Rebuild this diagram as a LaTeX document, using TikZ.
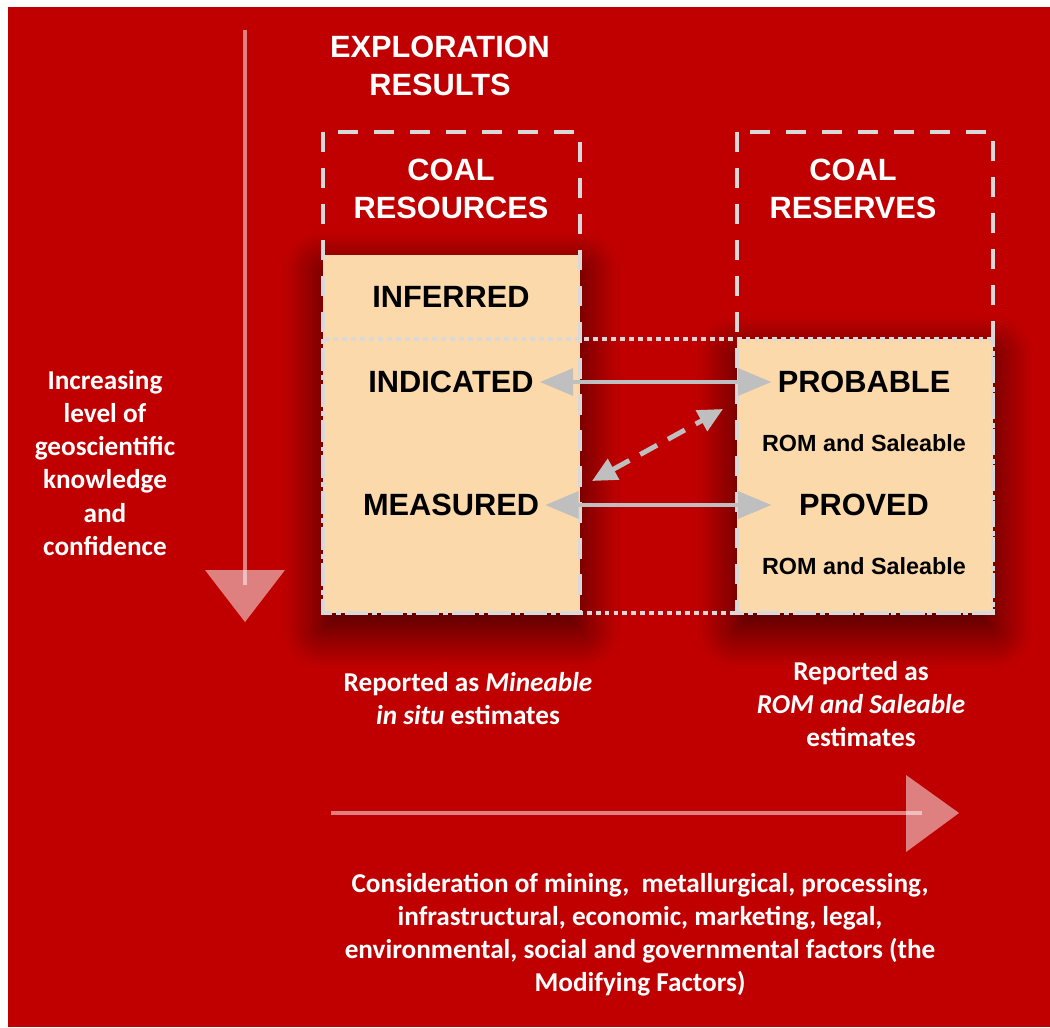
\documentclass[tikz,border=0pt]{standalone}
\usepackage{fontspec}
\setmainfont{Liberation Sans}
\newfontfamily\notefont{Carlito}
\usepackage{xcolor}
\usepackage{tikz}
\usetikzlibrary{positioning}
\usetikzlibrary{arrows.meta}
\usetikzlibrary{shadows.blur}
\definecolor{slide}{RGB}{192,0,0}
\definecolor{peach}{RGB}{252,217,170}
\definecolor{framegray}{RGB}{217,217,217}
\definecolor{linkgray}{RGB}{191,191,191}
\tikzset{	node distance=1.23cm,
	heading/.style={
		text=white,
		align=center,
		font=\bfseries\fontsize{17.5}{21.3}\selectfont},
	class/.style={
		text=black,
		font=\bfseries\fontsize{17.5}{21}\selectfont},
	sub/.style={
		text=black,
		font=\bfseries\fontsize{13.3}{16}\selectfont},
	note/.style={
		text=white,
		align=center,
		font=\notefont\bfseries\fontsize{15.5}{18.8}\selectfont},
	category/.style={
		fill=peach,
		blur shadow={shadow xshift=0pt, shadow yshift=-9pt,
			shadow blur radius=22pt, shadow blur steps=24, shadow opacity=70}},
	framebox/.style={
		draw=framegray,
		line width=2.3pt,
		dash pattern=on 11.5pt off 9pt},
	dotbox/.style={
		draw=framegray,
		line width=2.3pt,
		dash pattern=on 2.8pt off 2.3pt},
	relation/.style={
		draw=linkgray,
		line width=2.8pt,
		{Triangle[length=19pt,width=15pt]}-{Triangle[length=19pt,width=15pt]}},
	relation dashed/.style={
		draw=linkgray,
		line width=2.8pt,
		dash pattern=on 11pt off 7pt,
		{Triangle[length=14pt,width=13pt]}-{Triangle[length=14pt,width=13pt]}},
	ghost/.style={
		fill=white,
		opacity=0.5},
	ghost line/.style={
		draw=white,
		opacity=0.5,
		line width=2.3pt}
}
\begin{document}
\begin{tikzpicture}[x=0.02cm, y=-0.02cm]
	\useasboundingbox (0,0) rectangle (1050,1027);
	\fill[slide] (8,7) rectangle (1050,1027);
	% confidence arrow
	\coordinate (kstart) at (245,30);
	\coordinate (kend) at (245,585);
	\draw[ghost line] (kstart) -- (kend);
	\fill[ghost] (205,570) -- (285,570) -- (245,622) -- cycle;
	\node[note] (knowledge) at (105,463) {Increasing\\level of\\geoscientific\\knowledge\\and\\confidence};
	% boxes
	\fill[category] (323,255) rectangle (580,613);
	\fill[category] (737,339) rectangle (993,613);
	\draw[framebox] (323,132) rectangle (580,613);
	\draw[framebox] (737,132) rectangle (993,613);
	\draw[dotbox] (323,339) rectangle (993,613);
	\node[heading] (explore) at (440,66) {EXPLORATION\\RESULTS};
	\node[heading] (resources) at (451,189) {COAL\\RESOURCES};
	\node[heading] (reserves) at (853,189) {COAL\\RESERVES};
	\node[class] (inferred) at (451,297) {INFERRED};
	\node[class] (indicated) at (451,382) {INDICATED};
	\node[class] (measured) at (451,505) {MEASURED};
	\node[class] (probable) at (864,382) {PROBABLE};
	\node[sub, below of=probable] (probrom) {ROM and Saleable};
	\node[class, below of=probrom] (proved) {PROVED};
	\node[sub, below of=proved] (provrom) {ROM and Saleable};
	\draw[relation] (indicated.east) -- (probable.west);
	\draw[relation] (measured.east) -- (measured.east -| probable.west);
	\coordinate (dlow) at (592,481);
	\coordinate (dhigh) at (723,409);
	\draw[relation dashed] (dlow) -- (dhigh);
	% modifying factors arrow
	\coordinate (fstart) at (331,813);
	\coordinate (fend) at (922,813);
	\draw[ghost line] (fstart) -- (fend);
	\fill[ghost] (906,775) -- (959,813) -- (906,852) -- cycle;
	\node[note] (insitu) at (468,699) {Reported as \textit{Mineable}\\\textit{in situ} estimates};
	\node[note] (saleable) at (861,704) {Reported as\\\textit{ROM and Saleable}\\estimates};
	\node[note] (factors) at (640,935) {Consideration of mining,\ \ metallurgical, processing,\\infrastructural, economic, marketing, legal,\\environmental, social and governmental factors (the\\Modifying Factors)};
\end{tikzpicture}
\end{document}
